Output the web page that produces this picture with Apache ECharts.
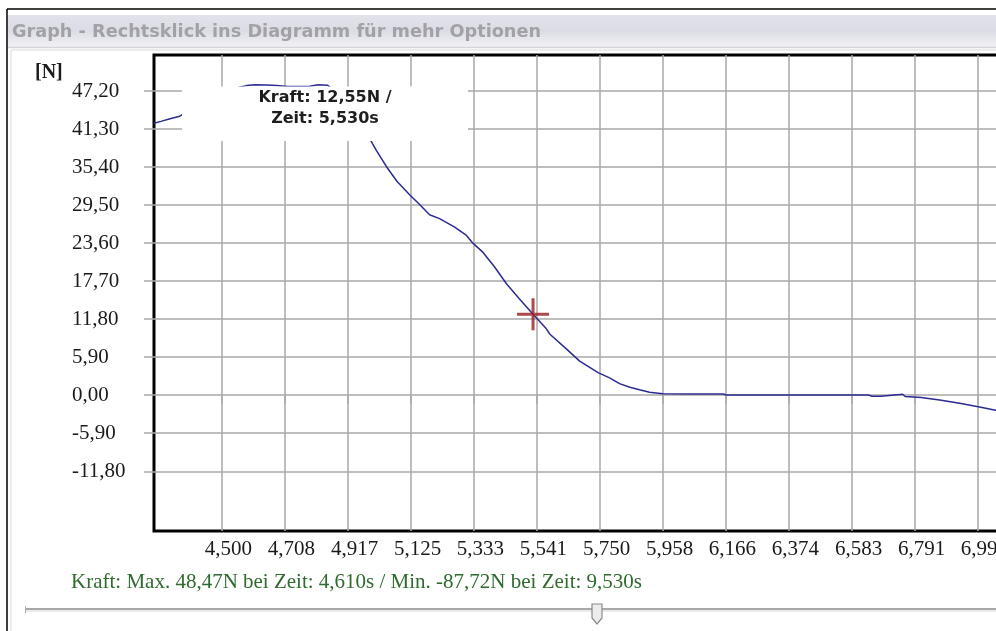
<!DOCTYPE html>
<html>
<head>
<meta charset="utf-8">
<script src="https://cdn.jsdelivr.net/npm/echarts@6/dist/echarts.min.js"></script>
<style>
html,body{margin:0;padding:0;background:#fff;}
#chart{width:996px;height:631px;}
</style>
</head>
<body>
<div id="chart"></div>
<script>
// ---- data ----
const times = [4.277, 4.300, 4.330, 4.362, 4.400, 4.450, 4.500, 4.540, 4.583, 4.610, 4.650, 4.682, 4.720, 4.760, 4.792, 4.820, 4.851, 4.880, 4.920, 4.960, 4.996,
  5.012, 5.045, 5.080, 5.122, 5.155, 5.188, 5.221, 5.271, 5.310, 5.331, 5.364, 5.403, 5.442, 5.486, 5.530, 5.574, 5.585, 5.640, 5.684, 5.745,
  5.783, 5.816, 5.850, 5.882, 5.915, 5.959, 6.050, 6.158, 6.169, 6.400, 6.576, 6.640, 6.650, 6.680, 6.686, 6.752, 6.760, 6.813, 6.874, 6.940,
  7.006, 7.059, 7.100];
const forces = [42.2, 42.5, 42.9, 43.3, 44.4, 45.8, 46.9, 47.6, 48.05, 48.2, 48.15, 48.05, 47.9, 47.92, 47.95, 48.2, 48.1, 47.0, 45.0, 42.3, 39.3,
  38.0, 35.5, 33.2, 31.1, 29.6, 28.0, 27.4, 26.1, 24.8, 23.6, 22.2, 19.9, 17.3, 14.9, 12.55, 10.3, 9.5, 7.2, 5.3, 3.5,
  2.7, 1.8, 1.25, 0.85, 0.45, 0.22, 0.20, 0.20, 0.05, 0.05, 0.05, 0.02, -0.15, -0.15, 0.15, 0.15, -0.2, -0.37, -0.73, -1.24,
  -1.82, -2.33, -2.65];

const cursorTime = [5.530];
const cursorForce = [12.55];

const maxInfo = [48.47, 4.610];
const minInfo = [-87.72, 9.530];

const xTickValues = [4.500, 4.708, 4.917, 5.125, 5.333, 5.541, 5.750, 5.958, 6.166, 6.374, 6.583, 6.791, 6.999];
const xTickLabels = ['4,500', '4,708', '4,917', '5,125', '5,333', '5,541', '5,750', '5,958', '6,166', '6,374', '6,583', '6,791', '6,999'];
const yTickValues = [47.2, 41.3, 35.4, 29.5, 23.6, 17.7, 11.8, 5.9, 0, -5.9, -11.8];
const yTickLabels = ['47,20', '41,30', '35,40', '29,50', '23,60', '17,70', '11,80', '5,90', '0,00', '-5,90', '-11,80'];

const titleText = 'Graph - Rechtsklick ins Diagramm für mehr Optionen';
const unitText = '[N]';

// ---- helpers ----
function de(v, d) { return v.toFixed(d).replace('.', ','); }
function nearestLabel(v, vals, labels) {
  let bi = 0, bd = Infinity;
  vals.forEach((t, i) => { const d = Math.abs(t - v); if (d < bd) { bd = d; bi = i; } });
  return labels[bi];
}

const lineData = times.map((t, i) => [t, forces[i]]);
const cursorData = cursorTime.map((t, i) => [t, cursorForce[i]]);

const gridColor = '#a9a9a9';
const serif = '"Liberation Serif", "DejaVu Serif", serif';

const chart = echarts.init(document.getElementById('chart'), null, { renderer: 'canvas' });
chart.setOption({
  animation: false,
  backgroundColor: '#ffffff',
  grid: {
    left: 154, top: 55, width: 854, height: 476,
    show: true, borderColor: '#000', borderWidth: 3, backgroundColor: '#fff',
    containLabel: false, outerBoundsMode: 'none'
  },
  xAxis: {
    type: 'value', min: 4.277, max: 7.1,
    axisLine: { show: false },
    axisTick: { show: true, length: 9, customValues: xTickValues, lineStyle: { color: gridColor, width: 1.5 } },
    splitLine: { show: true, lineStyle: { color: gridColor, width: 1.5 } },
    axisLabel: {
      customValues: xTickValues, margin: 8, align: 'center', padding: [0, 0, 0, 14],
      fontFamily: serif, fontSize: 21, color: '#1a1a1a', hideOverlap: false,
      formatter: v => nearestLabel(v, xTickValues, xTickLabels)
    }
  },
  yAxis: {
    type: 'value', min: -21.07, max: 52.8,
    axisLine: { show: false },
    axisTick: { show: true, length: 10, customValues: yTickValues, lineStyle: { color: gridColor, width: 1.5 } },
    splitLine: { show: true, lineStyle: { color: gridColor, width: 1.5 } },
    axisLabel: {
      customValues: yTickValues, margin: 82, align: 'left',
      fontFamily: serif, fontSize: 21, color: '#1a1a1a', hideOverlap: false,
      formatter: v => nearestLabel(v, yTickValues, yTickLabels)
    }
  },
  series: [
    {
      type: 'line', data: lineData, showSymbol: false, symbol: 'none',
      lineStyle: { color: '#2b2b91', width: 1.5 }, z: 3, clip: true
    },
    {
      type: 'scatter', data: cursorData, z: 5,
      symbol: 'path://M0,14.5 h32 v3 h-32 Z M14.5,0 h3 v32 h-3 Z',
      symbolSize: 32,
      itemStyle: { color: '#9a1b1f' }
    }
  ],
  graphic: [
    // outer frame
    { type: 'line', shape: { x1: 7, y1: 9, x2: 996, y2: 9 }, style: { stroke: '#000', lineWidth: 1.5 }, z: 50 },
    { type: 'line', shape: { x1: 7, y1: 9, x2: 7, y2: 631 }, style: { stroke: '#000', lineWidth: 1.5 }, z: 50 },
    // title bar
    { type: 'rect', shape: { x: 8, y: 15, width: 988, height: 32 }, z: 40,
      style: { fill: new echarts.graphic.LinearGradient(0, 0, 0, 1, [
        { offset: 0, color: '#e2e2ea' }, { offset: 0.5, color: '#dcdce6' }, { offset: 1, color: '#f1f1f4' }]) } },
    { type: 'line', shape: { x1: 8, y1: 47.5, x2: 996, y2: 47.5 }, style: { stroke: '#d4d4da', lineWidth: 1.5 }, z: 41 },
    { type: 'text', x: 12, y: 32, z: 42,
      style: { text: titleText, fill: '#a2a2a6', font: 'bold 17.7px "DejaVu Sans", sans-serif', textVerticalAlign: 'middle' } },
    // inner panel border
    { type: 'line', shape: { x1: 11, y1: 50, x2: 996, y2: 50 }, style: { stroke: '#dadada', lineWidth: 1 }, z: 40 },
    { type: 'line', shape: { x1: 11, y1: 50, x2: 11, y2: 631 }, style: { stroke: '#dadada', lineWidth: 1 }, z: 40 },
    // unit label
    { type: 'text', x: 35, y: 73, z: 42,
      style: { text: unitText, fill: '#1a1a1a', font: 'bold 20px "Liberation Serif", serif', textVerticalAlign: 'middle' } },
    // cursor info box
    { type: 'rect', shape: { x: 182, y: 86.5, width: 286, height: 54.5 }, z: 100, style: { fill: '#ffffff' } },
    { type: 'text', x: 325, y: 97.5, z: 101,
      style: { text: 'Kraft: ' + de(cursorForce[0], 2) + 'N /', fill: '#1e1e1e', font: 'bold 16px "DejaVu Sans", sans-serif', textAlign: 'center', textVerticalAlign: 'middle' } },
    { type: 'text', x: 325, y: 119, z: 101,
      style: { text: 'Zeit: ' + de(cursorTime[0], 3) + 's', fill: '#1e1e1e', font: 'bold 16px "DejaVu Sans", sans-serif', textAlign: 'center', textVerticalAlign: 'middle' } },
    // min / max summary
    { type: 'text', x: 71, y: 582, z: 42,
      style: { text: 'Kraft: Max. ' + de(maxInfo[0], 2) + 'N bei Zeit: ' + de(maxInfo[1], 3) + 's / Min. ' + de(minInfo[0], 2) + 'N bei Zeit: ' + de(minInfo[1], 3) + 's',
        fill: '#2f6a2f', font: '21px "Liberation Serif", serif', textVerticalAlign: 'middle' } },
    // slider
    { type: 'line', shape: { x1: 25, y1: 609, x2: 996, y2: 609 }, style: { stroke: '#a8a8a8', lineWidth: 2 }, z: 40 },
    { type: 'line', shape: { x1: 25, y1: 611, x2: 996, y2: 611 }, style: { stroke: '#e4e4e4', lineWidth: 1.5 }, z: 40 },
    { type: 'line', shape: { x1: 25.5, y1: 606, x2: 25.5, y2: 613 }, style: { stroke: '#b0b0b0', lineWidth: 1 }, z: 40 },
    { type: 'polygon', z: 45,
      shape: { points: [[592, 604], [602, 604], [602, 618], [597, 624], [592, 618]] },
      style: { fill: '#ececec', stroke: '#8a8a8a', lineWidth: 1.2 } }
  ]
});
</script>
</body>
</html>
